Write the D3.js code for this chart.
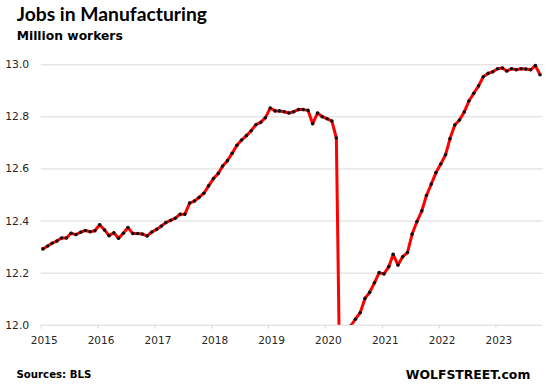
<!DOCTYPE html>
<html>
<head>
<meta charset="utf-8">
<script src="https://cdn.jsdelivr.net/npm/d3@7"></script>
<style>
  body { margin: 0; background: #fff; }
  svg { display: block; }
  .grid line { stroke: #d9d9d9; }
  .grid text, .xaxis text { fill: #262626; font-family: "DejaVu Sans", sans-serif; }
</style>
</head>
<body>
<div class="chart"></div>
<script>
// manufacturing jobs, million, monthly Jan 2015 - Oct 2023 (BLS)
const firstMonth = new Date(2015, 0, 15);
const jobs = [
  12.291, 12.302, 12.313, 12.321, 12.333, 12.333, 12.351, 12.346, 12.355, 12.362, 12.357, 12.361, // 2015
  12.384, 12.364, 12.342, 12.353, 12.332, 12.351, 12.373, 12.350, 12.350, 12.348, 12.341, 12.356, // 2016
  12.366, 12.379, 12.392, 12.401, 12.409, 12.424, 12.424, 12.467, 12.475, 12.489, 12.505, 12.533, // 2017
  12.561, 12.581, 12.609, 12.630, 12.658, 12.689, 12.709, 12.726, 12.745, 12.768, 12.777, 12.795, // 2018
  12.832, 12.821, 12.821, 12.818, 12.813, 12.818, 12.826, 12.826, 12.823, 12.772, 12.813, 12.799, // 2019
  12.791, 12.782, 12.717, 11.400, 11.700, 11.995, 12.021, 12.046, 12.101, 12.124, 12.161, 12.200, // 2020
  12.195, 12.223, 12.270, 12.229, 12.261, 12.277, 12.348, 12.396, 12.437, 12.496, 12.540, 12.584, // 2021
  12.617, 12.653, 12.714, 12.767, 12.786, 12.817, 12.859, 12.889, 12.917, 12.952, 12.965, 12.971, // 2022
  12.983, 12.986, 12.974, 12.983, 12.979, 12.983, 12.982, 12.979, 12.995, 12.960                  // 2023
];
const years = [2015, 2016, 2017, 2018, 2019, 2020, 2021, 2022, 2023];
const yTicks = [12.0, 12.2, 12.4, 12.6, 12.8, 13.0];

const width = 546, height = 388;
const plot = { left: 40.7, right: 542.7, top: 64.3, bottom: 324.7 };

const data = jobs.map((v, i) => ({ date: d3.timeMonth.offset(firstMonth, i), v: v }));

const x = d3.scaleTime()
  .domain([new Date(2015, 0, 1), new Date(2023, 10, 1)])
  .range([plot.left, plot.right]);
const y = d3.scaleLinear().domain([12, 13]).range([plot.bottom, plot.top]);

const svg = d3.select('.chart').append('svg')
  .attr('width', width)
  .attr('height', height);

// gridlines + y labels
svg.append('g')
  .attr('class', 'grid')
  .attr('transform', `translate(${plot.left},0)`)
  .call(d3.axisLeft(y).tickValues(yTicks).tickFormat(d3.format('.1f'))
    .tickSize(-(plot.right - plot.left)).tickPadding(11.5))
  .call(g => g.select('.domain').remove())
  .call(g => g.selectAll('text').attr('font-size', 10.8));

// x ticks + labels
svg.append('g')
  .attr('class', 'xaxis')
  .attr('transform', `translate(0,${plot.bottom})`)
  .call(d3.axisBottom(x).tickValues(years.map(yr => new Date(yr, 0, 1)))
    .tickFormat(d3.timeFormat('%Y')).tickSize(4).tickPadding(8))
  .call(g => g.select('.domain').remove())
  .call(g => g.selectAll('line').attr('stroke', '#d9d9d9'))
  .call(g => g.selectAll('text').attr('font-size', 10.5).attr('dx', 3));

svg.append('clipPath').attr('id', 'plotclip')
  .append('rect')
  .attr('x', 0).attr('y', 0)
  .attr('width', width).attr('height', plot.bottom);

const line = d3.line()
  .x(d => x(d.date))
  .y(d => y(d.v));

const marks = svg.append('g').attr('clip-path', 'url(#plotclip)');

marks.append('path')
  .datum(data)
  .attr('fill', 'none')
  .attr('stroke', '#ff0000')
  .attr('stroke-width', 3)
  .attr('stroke-linejoin', 'round')
  .attr('d', line);

marks.selectAll('.dot')
  .data(data)
  .enter()
  .append('circle')
  .attr('class', 'dot')
  .attr('cx', d => x(d.date))
  .attr('cy', d => y(d.v))
  .attr('r', 1.8)
  .attr('fill', '#111');

// titles
svg.append('text')
  .attr('x', 16.7).attr('y', 20.7)
  .attr('font-family', 'Lato, sans-serif')
  .attr('font-weight', 'bold')
  .attr('font-size', 19.3)
  .text('Jobs in Manufacturing');

svg.append('text')
  .attr('x', 16.7).attr('y', 40)
  .attr('font-family', '"DejaVu Sans", sans-serif')
  .attr('font-weight', 'bold')
  .attr('font-size', 12.3)
  .text('Million workers');

svg.append('text')
  .attr('x', 16.5).attr('y', 377.5)
  .attr('font-family', '"DejaVu Sans", sans-serif')
  .attr('font-weight', 'bold')
  .attr('font-size', 10.2)
  .text('Sources: BLS');

svg.append('text')
  .attr('x', 530.3).attr('y', 379)
  .attr('text-anchor', 'end')
  .attr('font-family', '"DejaVu Sans", sans-serif')
  .attr('font-weight', 'bold')
  .attr('font-size', 12.4)
  .text('WOLFSTREET.com');
</script>
</body>
</html>
